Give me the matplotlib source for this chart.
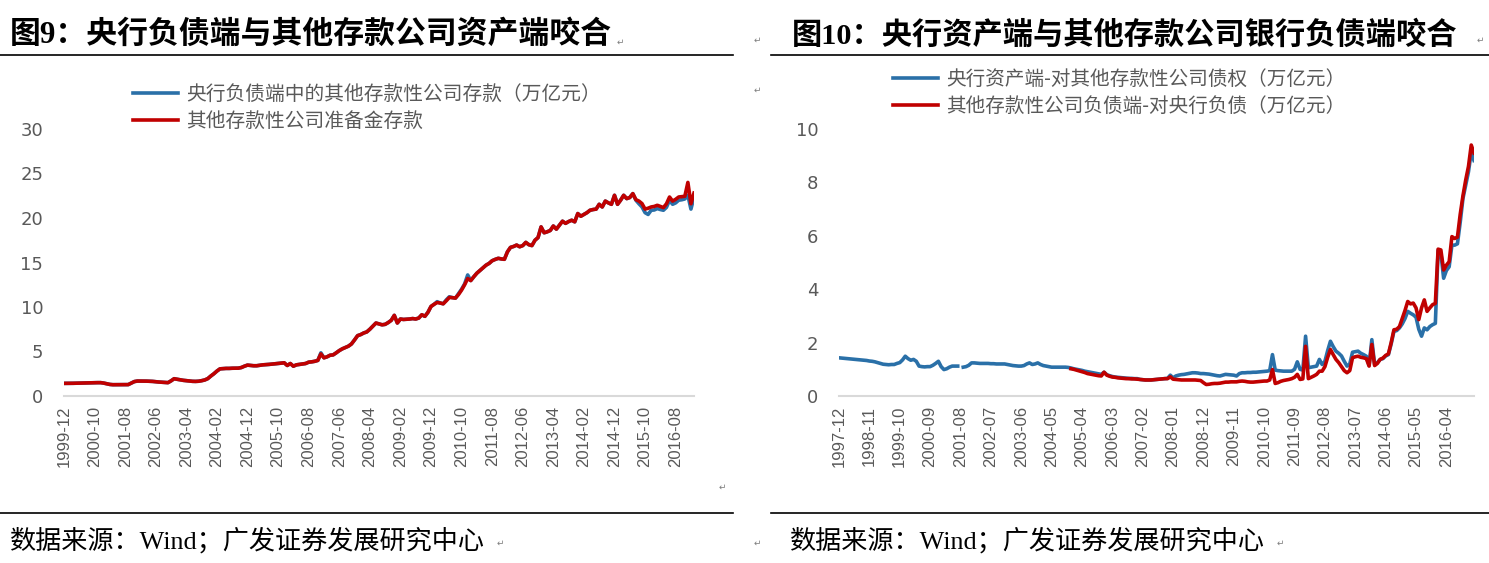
import numpy as np
import pandas as pd
import matplotlib
matplotlib.use('Agg')
from matplotlib import pyplot as plt
from matplotlib.lines import Line2D

plt.rcParams['font.family'] = ['Noto Sans CJK SC', 'DejaVu Sans']

# ---- data: figure 9 (monthly, 1999-12 .. 2017-02), unit: 万亿元
left_months = pd.period_range('1999-12', '2017-02', freq='M').strftime('%Y-%m')
left_blue = [1.42,
    1.42, 1.43, 1.43, 1.44, 1.45, 1.45, 1.46, 1.47, 1.48, 1.49, 1.50, 1.50,
    1.45, 1.38, 1.30, 1.27, 1.27, 1.26, 1.27, 1.27, 1.28, 1.45, 1.62, 1.68,
    1.68, 1.68, 1.67, 1.66, 1.64, 1.60, 1.57, 1.55, 1.52, 1.50, 1.70, 1.94,
    1.88, 1.82, 1.76, 1.72, 1.68, 1.65, 1.64, 1.66, 1.72, 1.80, 1.95, 2.24,
    2.50, 2.80, 3.05, 3.08, 3.10, 3.10, 3.12, 3.12, 3.13, 3.20, 3.35, 3.47,
    3.44, 3.40, 3.40, 3.45, 3.50, 3.52, 3.55, 3.58, 3.62, 3.66, 3.70, 3.73,
    3.43, 3.65, 3.35, 3.50, 3.55, 3.60, 3.65, 3.80, 3.84, 3.90, 4.00, 4.85,
    4.29, 4.40, 4.58, 4.62, 4.85, 5.10, 5.30, 5.45, 5.60, 5.85, 6.30, 6.78,
    6.90, 7.08, 7.20, 7.50, 7.85, 8.20, 8.10, 8.00, 8.05, 8.25, 8.50, 9.06,
    8.20, 8.65, 8.60, 8.62, 8.65, 8.70, 8.65, 8.76, 9.13, 8.95, 9.40, 10.06,
    10.30, 10.60, 10.45, 10.36, 10.80, 11.15, 11.05, 11.00, 11.50, 12.00, 12.60, 13.60,
    12.97, 13.40, 13.80, 14.10, 14.40, 14.70, 14.90, 15.20, 15.35, 15.47, 15.40, 15.36,
    16.20, 16.70, 16.80, 16.96, 16.77, 16.90, 17.26, 17.00, 16.90, 17.50, 17.80, 19.00,
    18.34, 18.45, 18.60, 19.10, 18.75, 19.20, 19.64, 19.40, 19.60, 19.75, 19.57, 20.50,
    20.20, 20.40, 20.60, 20.87, 20.95, 21.00, 21.54, 21.24, 21.90, 21.70, 21.54, 22.55,
    21.54, 22.00, 22.55, 22.18, 22.30, 22.74, 22.00, 21.60, 21.24, 20.60, 20.40, 20.87,
    20.90, 21.06, 20.95, 20.87, 21.20, 22.00, 21.54, 21.70, 22.00, 22.05, 22.14, 22.55,
    21.00, 22.36]
left_red = [1.42,
    1.42, 1.43, 1.43, 1.44, 1.45, 1.45, 1.46, 1.47, 1.48, 1.49, 1.50, 1.50,
    1.45, 1.38, 1.30, 1.27, 1.27, 1.26, 1.27, 1.27, 1.28, 1.45, 1.62, 1.68,
    1.68, 1.68, 1.67, 1.66, 1.64, 1.60, 1.57, 1.55, 1.52, 1.50, 1.70, 1.94,
    1.88, 1.82, 1.76, 1.72, 1.68, 1.65, 1.64, 1.66, 1.72, 1.80, 1.95, 2.24,
    2.50, 2.80, 3.05, 3.08, 3.10, 3.10, 3.12, 3.12, 3.13, 3.20, 3.35, 3.47,
    3.44, 3.40, 3.40, 3.45, 3.50, 3.52, 3.55, 3.58, 3.62, 3.66, 3.70, 3.73,
    3.43, 3.65, 3.35, 3.50, 3.55, 3.60, 3.65, 3.80, 3.84, 3.90, 4.00, 4.73,
    4.29, 4.40, 4.58, 4.62, 4.85, 5.10, 5.30, 5.45, 5.60, 5.85, 6.30, 6.78,
    6.90, 7.08, 7.20, 7.50, 7.85, 8.20, 8.10, 8.00, 8.05, 8.25, 8.50, 9.06,
    8.20, 8.65, 8.60, 8.62, 8.65, 8.70, 8.65, 8.76, 9.13, 8.95, 9.40, 10.06,
    10.30, 10.50, 10.45, 10.36, 10.70, 11.07, 11.05, 11.00, 11.40, 11.90, 12.50, 13.20,
    12.97, 13.40, 13.80, 14.10, 14.40, 14.70, 14.90, 15.20, 15.35, 15.47, 15.40, 15.36,
    16.20, 16.70, 16.80, 16.96, 16.77, 16.90, 17.26, 17.00, 16.90, 17.50, 17.80, 19.00,
    18.34, 18.45, 18.60, 19.10, 18.75, 19.20, 19.64, 19.40, 19.60, 19.75, 19.57, 20.50,
    20.20, 20.40, 20.60, 20.87, 20.95, 21.00, 21.54, 21.24, 21.90, 21.70, 21.54, 22.55,
    21.54, 22.00, 22.55, 22.18, 22.30, 22.74, 22.06, 21.90, 21.62, 21.00, 21.10, 21.24,
    21.30, 21.43, 21.30, 21.17, 21.60, 22.36, 21.90, 22.10, 22.36, 22.40, 22.44, 24.00,
    21.60, 22.80]
left_labels = ['央行负债端中的其他存款性公司存款（万亿元）', '其他存款性公司准备金存款']

# ---- data: figure 10 (monthly, 1997-12 .. 2017-02), unit: 万亿元
right_months = pd.period_range('1997-12', '2017-02', freq='M').strftime('%Y-%m')
right_blue = [1.43,
    1.42, 1.41, 1.40, 1.39, 1.38, 1.37, 1.36, 1.35, 1.34, 1.33, 1.31, 1.30,
    1.28, 1.25, 1.22, 1.19, 1.18, 1.17, 1.18, 1.18, 1.22, 1.25, 1.35, 1.49,
    1.40, 1.34, 1.37, 1.30, 1.12, 1.10, 1.09, 1.10, 1.10, 1.15, 1.22, 1.30,
    1.10, 0.99, 1.02, 1.08, 1.12, 1.12, 1.12, np.nan, 1.08, 1.10, 1.15, 1.24,
    1.24, 1.23, 1.22, 1.22, 1.22, 1.22, 1.21, 1.21, 1.20, 1.20, 1.20, 1.20,
    1.18, 1.16, 1.14, 1.13, 1.12, 1.12, 1.14, 1.20, 1.24, 1.18, 1.20, 1.24,
    1.18, 1.14, 1.12, 1.10, 1.08, 1.08, 1.08, 1.08, 1.08, 1.08, 1.07, 1.05,
    1.02, 1.00, 0.98, 0.96, 0.93, 0.91, 0.89, 0.87, 0.85, 0.83, 0.81, 0.89,
    0.80, 0.76, 0.73, 0.71, 0.70, 0.69, 0.68, 0.67, 0.66, 0.66, 0.65, 0.65,
    0.62, 0.61, 0.60, 0.60, 0.60, 0.61, 0.62, 0.63, 0.64, 0.65, 0.66, 0.78,
    0.68, 0.75, 0.78, 0.80, 0.81, 0.83, 0.85, 0.87, 0.87, 0.86, 0.84, 0.84,
    0.83, 0.82, 0.80, 0.78, 0.76, 0.75, 0.78, 0.81, 0.80, 0.79, 0.78, 0.75,
    0.84, 0.87, 0.87, 0.88, 0.88, 0.89, 0.89, 0.90, 0.91, 0.92, 0.93, 0.95,
    1.55, 0.97, 0.95, 0.94, 0.93, 0.93, 0.93, 0.93, 1.00, 1.28, 1.00, 0.97,
    2.24, 1.06, 1.08, 1.10, 1.12, 1.37, 1.18, 1.30, 1.70, 2.05, 1.85, 1.68,
    1.60, 1.50, 1.30, 1.12, 1.20, 1.64, 1.66, 1.68, 1.60, 1.55, 1.49, 1.15,
    2.11, 1.18, 1.25, 1.37, 1.40, 1.50, 1.55, 1.95, 2.42, 2.45, 2.55, 2.70,
    2.90, 3.17, 3.10, 3.04, 2.95, 2.50, 2.24, 2.55, 2.48, 2.60, 2.67, 2.72,
    5.45, 5.35, 4.41, 4.70, 4.84, 5.65, 5.65, 5.70, 6.50, 7.40, 7.90, 8.40,
    9.13, 8.82]
# red series starts in 2004-12
right_red_start = '2004-12'
right_red = [1.02,
    1.00, 0.97, 0.94, 0.91, 0.88, 0.84, 0.82, 0.80, 0.78, 0.76, 0.75, 0.89,
    0.78, 0.74, 0.71, 0.70, 0.68, 0.67, 0.66, 0.65, 0.65, 0.64, 0.64, 0.63,
    0.62, 0.61, 0.60, 0.60, 0.60, 0.61, 0.62, 0.63, 0.64, 0.65, 0.65, 0.72,
    0.63, 0.62, 0.61, 0.60, 0.60, 0.60, 0.60, 0.60, 0.60, 0.59, 0.58, 0.50,
    0.43, 0.44, 0.46, 0.47, 0.47, 0.48, 0.50, 0.52, 0.52, 0.53, 0.53, 0.53,
    0.55, 0.56, 0.55, 0.53, 0.52, 0.52, 0.53, 0.54, 0.55, 0.56, 0.56, 0.60,
    0.99, 0.47, 0.50, 0.55, 0.58, 0.60, 0.62, 0.65, 0.70, 0.81, 0.62, 0.64,
    1.86, 0.65, 0.70, 0.75, 0.81, 0.93, 0.93, 1.10, 1.45, 1.74, 1.55, 1.37,
    1.25, 1.10, 0.95, 0.87, 0.95, 1.43, 1.47, 1.49, 1.45, 1.43, 1.40, 1.12,
    1.93, 1.14, 1.22, 1.37, 1.42, 1.52, 1.58, 2.00, 2.48, 2.50, 2.60, 2.90,
    3.20, 3.54, 3.45, 3.48, 3.30, 2.86, 3.30, 3.60, 3.17, 3.30, 3.42, 3.47,
    5.50, 5.47, 4.72, 4.90, 5.03, 5.97, 5.90, 5.95, 6.80, 7.50, 8.09, 8.60,
    9.40, 9.10]
right_labels = ['央行资产端-对其他存款性公司债权（万亿元）', '其他存款性公司负债端-对央行负债（万亿元）']

BLUE = '#2A70A8'
RED = '#C00000'
GRAY = '#595959'

W, H = 1489, 563
fig = plt.figure(figsize=(W / 100, H / 100), dpi=100)


def box(x0, y0, x1, y1):
    return [x0 / W, 1 - y1 / H, (x1 - x0) / W, (y1 - y0) / H]


def style_axis(ax, months, step, ymax, ystep):
    n = len(months)
    ax.set_xlim(0, n - 1)
    ax.set_ylim(0, ymax)
    for s in ['top', 'right', 'left']:
        ax.spines[s].set_visible(False)
    ax.spines['bottom'].set_color('#d9d9d9')
    ax.spines['bottom'].set_linewidth(1.5)
    ax.set_yticks(np.arange(0, ymax + 0.1, ystep))
    ax.set_yticklabels([f'{v:g}' for v in np.arange(0, ymax + 0.1, ystep)],
                       family=['Liberation Sans Narrow', 'DejaVu Sans'])
    ax.set_xticks(range(0, n, step))
    ax.set_xticklabels(months[::step], rotation=90, family='Liberation Sans')
    ax.tick_params(axis='y', length=0, pad=15, labelsize=13, labelcolor=GRAY)
    ax.tick_params(axis='x', length=0, pad=7, labelsize=12, labelcolor=GRAY)


# ---- left chart
ax1 = fig.add_axes(box(64, 129, 694, 396))
x1 = np.arange(len(left_months))
ax1.plot(x1, left_blue, color=BLUE, lw=2.6, label=left_labels[0])
ax1.plot(x1, left_red, color=RED, lw=2.6, label=left_labels[1])
style_axis(ax1, left_months, 10, 30, 5)
leg1 = ax1.legend(loc='upper left', bbox_to_anchor=(133 / W, 1 - 84 / H),
                  bbox_transform=fig.transFigure, frameon=False, fontsize=14.2,
                  handlelength=2.3, handletextpad=0.4, labelspacing=0.28,
                  borderpad=0, borderaxespad=0)
for t in leg1.get_texts():
    t.set_color(GRAY)

# ---- right chart
ax2 = fig.add_axes(box(839, 129, 1474, 396))
x2 = np.arange(len(right_months))
red_x0 = list(right_months).index(right_red_start)
ax2.plot(x2, right_blue, color=BLUE, lw=2.6, label=right_labels[0])
ax2.plot(x2[red_x0:red_x0 + len(right_red)], right_red, color=RED, lw=2.6,
         label=right_labels[1])
style_axis(ax2, right_months, 11, 10, 2)
leg2 = ax2.legend(loc='upper left', bbox_to_anchor=(893 / W, 1 - 69 / H),
                  bbox_transform=fig.transFigure, frameon=False, fontsize=14.1,
                  handlelength=2.3, handletextpad=0.4, labelspacing=0.28,
                  borderpad=0, borderaxespad=0)
for t in leg2.get_texts():
    t.set_color(GRAY)

# ---- document text around the charts
serif = ['Liberation Serif', 'Noto Sans CJK SC']
fig.text(10 / W, 1 - 35 / H, '图9：央行负债端与其他存款公司资产端咬合',
         fontsize=22.2, fontweight='bold', family=serif, va='center')
fig.text(792 / W, 1 - 35 / H, '图10：央行资产端与其他存款公司银行负债端咬合',
         fontsize=21.8, fontweight='bold', family=serif, va='center')
fig.text(10 / W, 1 - 540 / H, '数据来源：Wind；广发证券发展研究中心',
         fontsize=18.8, family=serif, va='center')
fig.text(790 / W, 1 - 540 / H, '数据来源：Wind；广发证券发展研究中心',
         fontsize=18.8, family=serif, va='center')

for (xa, xb, y) in [(0, 733, 55), (771, 1489, 55), (0, 733, 513), (771, 1489, 513)]:
    fig.add_artist(Line2D([xa / W, xb / W], [1 - y / H, 1 - y / H],
                          color='black', lw=1.2))

# paragraph marks of the source document
for (xm, ym) in [(620, 42), (757, 40), (757, 90), (722, 487), (500, 543),
                 (757, 543), (1280, 543), (1480, 40)]:
    fig.text(xm / W, 1 - ym / H, '\u21b5', fontsize=6.5, color='#7f7f7f',
             family='DejaVu Sans', ha='center', va='center')

fig.savefig('out.png', dpi=100)
